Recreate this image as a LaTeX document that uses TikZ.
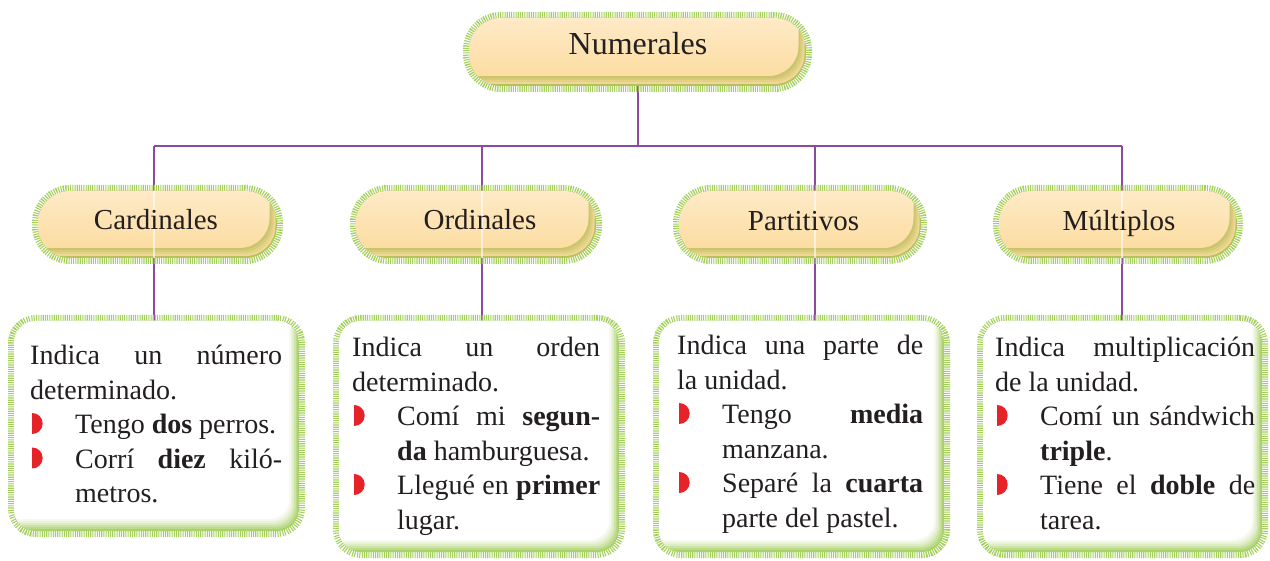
\documentclass[tikz,border=0pt]{standalone}
\usepackage{fontspec}
\setmainfont{Liberation Serif}
\usetikzlibrary{calc,backgrounds}
\definecolor{hatch}{HTML}{A3CF5C}
\definecolor{glow}{HTML}{A9D06A}
\definecolor{hdtop}{HTML}{FFF1DA}
\definecolor{hdmid}{HTML}{FCDDA2}
\definecolor{hdglow}{HTML}{BDBF5E}
\definecolor{plink}{HTML}{8B4A9E}
\definecolor{bred}{HTML}{E52329}
\definecolor{ink}{HTML}{231F20}
\newlength\bind
\setlength\bind{45pt}
\newcommand\bmark{\makebox[\bind][l]{\hspace{2pt}\tikz[x=1pt,y=1pt,baseline=0pt]\fill[bred] (0,0) arc[start angle=-90,end angle=90,radius=10.5pt] -- cycle;}}
\newcommand\JL[1]{\makebox[\linewidth][s]{#1}}
\newcommand\BL[1]{\bmark#1}
\newcommand\BJ[1]{\bmark\makebox[\dimexpr\linewidth-\bind\relax][s]{#1}}
\newcommand\IL[1]{\hspace*{\bind}#1}
\newcommand\bodyfont{\fontsize{28}{34.5}\selectfont}
\tikzset{
  hatchring/.style={preaction={draw=hatch, line width=12pt, dash pattern=on 1.1pt off 1.1pt}},
  hdr/.style={rectangle, hatchring, rounded corners=32pt, inner sep=0pt,
    path picture={
      \fill[hdglow] (path picture bounding box.south west) rectangle (path picture bounding box.north east);
      \foreach \k/\c in {1/80,2/60,3/40,4/20}{
        \fill[hdmid!\c!hdglow, rounded corners=30pt]
          ($(path picture bounding box.north west)+(-40,-30)$) rectangle ($(path picture bounding box.south east)+(-1.5*\k,-2*\k)$);}
      \shade[top color=hdtop, bottom color=hdmid, rounded corners=30pt]
        ($(path picture bounding box.north west)+(-40,-30)$) rectangle ($(path picture bounding box.south east)+(-7.5,-10)$);
    }},
  box/.style={rectangle, hatchring, rounded corners=22pt, inner sep=0pt,
    path picture={
      \fill[glow] (path picture bounding box.south west) rectangle (path picture bounding box.north east);
      \foreach \k/\c in {1/20,2/40,3/60,4/75,5/88,6/100}{
        \fill[white!\c!glow, rounded corners=20pt]
          ($(path picture bounding box.north west)+(-30,-30)$) rectangle ($(path picture bounding box.south east)+(-1.6*\k,-2*\k)$);}
    }},
  ttl/.style={anchor=base, inner sep=0pt, text=ink, font=\fontsize{32}{36}\selectfont},
  lbl/.style={anchor=base, inner sep=0pt, text=ink, font=\fontsize{29}{34}\selectfont},
  body/.style={anchor=base west, inner sep=0pt, text=ink},
  conn/.style={draw=plink, line width=2.8pt},
  ghost/.style={draw=white, opacity=0.6, line width=1.6pt}
}
\begin{document}
\begin{tikzpicture}[x=1pt,y=-1pt]
\useasboundingbox (0,0) rectangle (1270,561);
% header shapes
\node[hdr, minimum width=337pt, minimum height=68pt] (num) at (637.5,52) {};
\node[ttl] (numt) at (638,55) {Numerales};
\node[hdr, minimum width=239pt, minimum height=67pt] (lab1) at (157.5,224.5) {};
\node[hdr, minimum width=240pt, minimum height=67pt] (lab2) at (476,224.5) {};
\node[hdr, minimum width=242pt, minimum height=67pt] (lab3) at (800,224.5) {};
\node[hdr, minimum width=238pt, minimum height=67pt] (lab4) at (1118,224.5) {};
% content boxes
\node[box, minimum width=285pt, minimum height=210pt] (c1) at (156.5,426) {};
\node[box, minimum width=280pt, minimum height=231pt] (c2) at (479,436.5) {};
\node[box, minimum width=285pt, minimum height=231pt] (c3) at (801.5,436.5) {};
\node[box, minimum width=279pt, minimum height=231pt] (c4) at (1122.5,436.5) {};
% junctions
\coordinate (j0) at (638,146);
\coordinate (j1) at (154,146);
\coordinate (j2) at (482,146);
\coordinate (j3) at (815,146);
\coordinate (j4) at (1122,146);
\begin{pgfonlayer}{background}
  \draw[conn] (j0 |- num.south) -- (j0);
  \draw[conn] (j1) -- (j4);
  \draw[conn] (j1) -- (j1 |- c1.north);
  \draw[conn] (j2) -- (j2 |- c2.north);
  \draw[conn] (j3) -- (j3 |- c3.north);
  \draw[conn] (j4) -- (j4 |- c4.north);
\end{pgfonlayer}
\draw[ghost] (j1 |- lab1.north) -- (j1 |- lab1.south);
\draw[ghost] (j2 |- lab2.north) -- (j2 |- lab2.south);
\draw[ghost] (j3 |- lab3.north) -- (j3 |- lab3.south);
\draw[ghost] (j4 |- lab4.north) -- (j4 |- lab4.south);
% labels
\node[lbl] (l1t) at (156,230) {Cardinales};
\node[lbl] (l2t) at (480,230) {Ordinales};
\node[lbl] (l3t) at (803.5,230.5) {Partitivos};
\node[lbl] (l4t) at (1119,231) {Múltiplos};
% texts
\node[body] (t1) at (30,365) {\parbox[t]{252pt}{\bodyfont
\JL{Indica un número}\\
determinado.\\
\BL{Tengo \textbf{dos} perros.}\\
\BJ{Corrí \textbf{diez} kiló-}\\
\IL{metros.}}};
\node[body] (t2) at (352,357) {\parbox[t]{248pt}{\bodyfont
\JL{Indica un orden}\\
determinado.\\
\BJ{Comí mi \textbf{segun-}}\\
\IL{\textbf{da} hamburguesa.}\\
\BJ{Llegué en \textbf{primer}}\\
\IL{lugar.}}};
\node[body] (t3) at (677,355) {\parbox[t]{246pt}{\bodyfont
\JL{Indica una parte de}\\
la unidad.\\
\BJ{Tengo \textbf{media}}\\
\IL{manzana.}\\
\BJ{Separé la \textbf{cuarta}}\\
\IL{parte del pastel.}}};
\node[body] (t4) at (995,357) {\parbox[t]{260pt}{\bodyfont
\JL{Indica multiplicación}\\
de la unidad.\\
\BJ{Comí un sándwich}\\
\IL{\textbf{triple}.}\\
\BJ{Tiene el \textbf{doble} de}\\
\IL{tarea.}}};
\end{tikzpicture}
\end{document}
